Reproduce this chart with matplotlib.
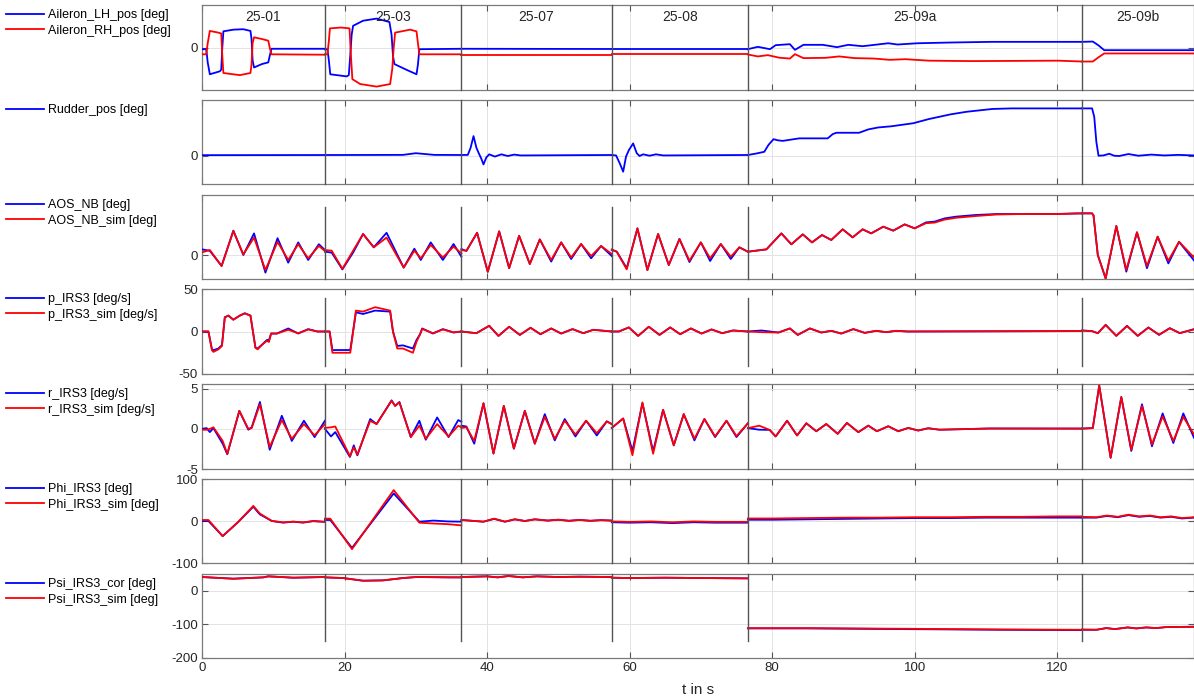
import numpy as np
import matplotlib
matplotlib.use("Agg")
import matplotlib.pyplot as plt
import matplotlib.transforms as mtransforms

plt.rcParams['font.family'] = ['Liberation Sans', 'DejaVu Sans']
plt.rcParams['axes.unicode_minus'] = False

# ---------------- data ----------------
seg_bounds = [17.25, 36.4, 57.5, 76.6, 123.5]
seg_labels = ["25-01", "25-03", "25-07", "25-08", "25-09a", "25-09b"]
seg_starts = [0.0, 17.25, 36.4, 57.5, 76.6, 123.5]
seg_ends = [17.25, 36.4, 57.5, 76.6, 123.5, 139.2]

# Aileron (arbitrary deg scale)
ail_lh_t = [
    [0, 0.6, 0.8, 1.1, 1.7, 2.5, 2.7, 2.85, 3.0, 4.4, 5.8, 6.8, 6.95, 7.1, 7.3, 8.4, 9.3, 9.5, 9.75, 17.25],
    [17.25, 17.6, 17.8, 18.0, 20.3, 20.6, 20.8, 21.0, 21.2, 22.6, 24.5, 26.3, 26.6, 26.8, 27.0, 28.7, 30.1, 30.3, 30.5, 36.4],
    [36.4, 57.5],
    [57.5, 76.6],
    [76.6, 78.0, 79.7, 80.5, 82.5, 83.2, 84.4, 87.1, 89.1, 90.7, 92.7, 96.3, 97.6, 100.4, 105.3, 110.8, 119.1, 123.5],
    [123.5, 125.0, 125.8, 126.6, 139.2]]
ail_lh = [
    [-0.4, -0.4, -3.5, -6.3, -6.0, -5.6, -5.2, 0, 3.8, 4.2, 4.3, 3.9, 2, -3, -4.7, -3.9, -3.5, -2, -0.3, -0.3],
    [-0.4, -0.4, -3, -6.3, -6.8, -6.5, -2, 3, 5.1, 6.3, 6.8, 6.0, 3, -2, -3.9, -5.25, -6.3, -4, -0.4, -0.3],
    [-0.3, -0.35],
    [-0.4, -0.4],
    [-0.4, 0.16, -0.4, 0.55, 0.78, -0.55, 0.63, 0.63, 0.08, 0.63, 0.3, 1.0, 0.7, 1.0, 1.18, 1.33, 1.33, 1.33],
    [1.33, 1.4, 0.5, -0.63, -0.63]]
ail_rh_t = [
    [0, 0.6, 0.8, 1.1, 2.3, 2.7, 2.85, 3.0, 5.3, 6.8, 6.95, 7.1, 7.3, 8.4, 9.3, 9.5, 9.75, 17.25],
    [17.25, 17.6, 17.8, 17.95, 19.5, 20.7, 20.9, 21.1, 22.2, 24.5, 26.4, 26.7, 26.9, 27.1, 29.2, 30.1, 30.3, 30.5, 36.4],
    [36.4, 57.5],
    [57.5, 76.6],
    [76.6, 78.0, 79.4, 81.0, 82.5, 83.2, 84.4, 87.5, 89.4, 91.6, 94.3, 96.5, 98.7, 102.0, 108.0, 120.2, 123.5],
    [123.5, 125.0, 125.8, 126.6, 139.2]]
ail_rh = [
    [-1.6, -1.6, 1, 3.9, 3.5, 3.3, -2, -6.0, -6.5, -6.0, -4, 1, 2.4, 2.0, 1.6, 0, -1.6, -1.7],
    [-1.6, -1.6, 1.5, 4.5, 4.7, 4.5, -2, -7.45, -8.6, -9.2, -8.6, -5, 0, 3.5, 4.2, 3.8, 1, -1.6, -1.6],
    [-1.65, -1.65],
    [-1.6, -1.6],
    [-1.65, -2.1, -1.8, -2.4, -2.6, -1.57, -2.5, -2.43, -2.1, -2.5, -2.6, -2.9, -2.75, -3.1, -3.2, -3.1, -3.3],
    [-3.3, -3.3, -2.3, -1.4, -1.4]]

# Rudder
rud_t = [
    [0, 17.25],
    [17.25, 28.2, 30.0, 32.6, 36.4],
    [36.4, 37.3, 37.7, 38.1, 38.5, 38.8, 39.2, 39.5, 39.9, 40.3, 41.1, 42.0, 42.9, 43.8, 44.7, 57.5],
    [57.5, 58.1, 58.6, 59.1, 59.5, 59.9, 60.5, 61.0, 61.4, 61.9, 62.8, 63.7, 64.7, 76.6],
    [76.6, 77.8, 78.9, 79.5, 80.2, 80.8, 81.5, 83.8, 87.8, 88.5, 89.0, 92.2, 93.5, 94.9, 96.7, 99.8, 102.0, 105.1, 107.3, 110.9, 113.6, 123.5],
    [123.5, 124.9, 125.2, 125.5, 125.8, 126.5, 127.3, 128.0, 128.7, 130.0, 131.4, 133.2, 135.0, 137.0, 139.2]]
rud = [
    [0.3, 0.35],
    [0.35, 0.4, 1.0, 0.4, 0.36],
    [0.36, 0.4, 3.0, 7.1, 3.0, 1.2, -1.0, -3.0, -0.5, 0.6, -0.2, 0.6, 0.0, 0.5, 0.2, 0.36],
    [0.36, 0.2, -2.5, -5.6, -0.2, 2.1, 4.5, 1.0, 0.0, 0.6, 0.1, 0.6, 0.2, 0.36],
    [0.36, 0.9, 1.5, 4.0, 6.0, 5.6, 5.4, 6.3, 6.3, 7.8, 8.3, 8.3, 9.5, 10.2, 10.6, 11.7, 13.2, 14.9, 15.8, 16.8, 17.0, 17.0],
    [17.0, 17.0, 14, 5, 0.1, 0.2, 0.8, 0.1, 0.0, 0.7, 0.1, 0.5, 0.2, 0.4, 0.2]]

# AOS
aos_t = [
    [0, 1.1, 2.75, 4.4, 5.8, 7.3, 8.9, 10.6, 12.1, 13.5, 14.9, 16.4, 17.25],
    [17.25, 18.2, 19.7, 21.2, 22.6, 24.1, 25.9, 28.3, 29.8, 30.7, 32.1, 33.8, 35.3, 36.4],
    [36.4, 37.1, 38.6, 40.1, 41.7, 43.1, 44.5, 46.0, 47.4, 49.0, 50.4, 51.8, 53.2, 54.6, 56.0, 57.5],
    [57.5, 58.2, 59.6, 61.1, 62.5, 64.0, 65.5, 67.0, 68.4, 70.0, 71.3, 72.8, 74.2, 75.4, 76.6],
    [76.6, 79.2, 81.3, 82.7, 84.3, 85.6, 87.0, 88.3, 89.9, 91.3, 92.7, 93.9, 95.6, 97.0, 98.6, 100.0, 101.6, 102.8, 104.2, 105.8, 108.6, 111.5, 115.2, 119.9, 122.7, 123.5],
    [123.5, 124.9, 125.1, 125.7, 126.8, 128.3, 129.7, 131.2, 132.6, 134.1, 135.6, 137.1, 139.2]]
aos_nb = [
    [0.94, 0.7, -1.83, 4.06, 0, 3.6, -2.94, 2.8, -1.28, 2.1, -0.83, 1.8, 0.83],
    [0.55, 0.4, -2.4, 0.4, 3.5, 1.28, 3.7, -2.1, 1.05, -0.83, 2.1, -0.83, 1.83, -0.28],
    [1.0, 0.67, 3.7, -2.8, 3.94, -2.2, 3.2, -1.5, 2.6, -1.1, 2.1, -0.67, 1.83, -0.55, 1.5, -0.17],
    [0.83, 0.55, -2.2, 4.44, -2.5, 3.5, -1.67, 2.67, -1.17, 2.1, -1.0, 1.83, -0.67, 1.28, 0.55],
    [0.55, 0.94, 3.6, 1.78, 3.44, 2.1, 3.33, 2.5, 4.28, 2.94, 4.28, 3.6, 4.72, 4.06, 5.1, 4.44, 5.44, 5.56, 6.1, 6.39, 6.67, 6.83, 6.83, 6.83, 6.94, 6.94],
    [6.94, 6.94, 6.6, 0, -3.9, 4.83, -2.78, 3.78, -2.2, 3.06, -1.4, 2.2, -0.9]]
aos_sim = [
    [0.44, 0.83, -1.83, 4.0, 0.1, 2.9, -2.5, 2.2, -0.83, 1.8, -0.55, 1.5, 0.67],
    [0.83, 0.72, -2.3, 0.7, 3.5, 1.28, 2.9, -2.1, 0.72, -0.55, 1.67, -0.4, 1.39, 0.28],
    [0.83, 0.7, 3.7, -2.8, 3.94, -2.2, 3.2, -1.5, 2.6, -0.83, 2.1, -0.4, 1.83, -0.17, 1.5, 0.17],
    [0.94, 0.55, -2.4, 4.44, -2.5, 3.5, -1.67, 2.67, -0.95, 2.1, -0.55, 1.83, -0.28, 1.28, 0.55],
    [0.55, 0.94, 3.6, 1.78, 3.44, 2.1, 3.33, 2.5, 4.28, 2.94, 4.28, 3.6, 4.72, 4.06, 5.1, 4.44, 5.3, 5.4, 5.9, 6.2, 6.5, 6.75, 6.83, 6.83, 6.9, 6.94],
    [6.94, 6.94, 6.6, 0, -3.9, 4.83, -2.5, 3.78, -1.83, 3.06, -0.95, 2.2, -0.4]]

# p_IRS3
p_t = [
    [0, 0.9, 1.4, 1.6, 2.3, 2.8, 3.2, 3.7, 4.4, 5.3, 6.0, 6.8, 7.5, 7.8, 8.5, 9.1, 9.4, 9.7, 10.5, 12.1, 13.5, 14.9, 16.2, 17.25],
    [17.25, 17.9, 18.3, 18.7, 20.8, 21.2, 21.6, 22.6, 24.3, 26.4, 26.8, 27.4, 28.2, 29.6, 30.1, 30.6, 30.9, 32.4, 33.8, 35.3, 36.4],
    [36.4, 38.5, 40.3, 41.6, 43.1, 44.6, 46.1, 47.5, 49.0, 50.4, 52.0, 53.5, 54.9, 57.5],
    [57.5, 58.5, 59.9, 61.2, 62.7, 64.2, 65.7, 67.1, 68.6, 70.1, 71.5, 73.0, 74.5, 76.6],
    [76.6, 78.5, 80.9, 82.5, 83.6, 85.3, 86.9, 88.3, 89.7, 91.4, 93.0, 94.6, 96.0, 97.4, 99.0, 123.5],
    [123.5, 124.9, 125.7, 126.8, 128.3, 129.8, 131.3, 132.8, 134.3, 135.8, 137.2, 139.2]]
p_irs = [
    [0, 0, -21, -22, -20, -16, 16.7, 18.7, 13.9, 18.7, 21.4, 18.7, -19, -20, -15, -10, -10, -2.4, -2.4, 3.6, -2.4, 2.8, 0, 0],
    [0, 0, -22, -21.8, -21.8, 0, 22.6, 20.6, 24.6, 23.4, 0, -17, -16.3, -20, -10, -3.2, 3.6, -2.4, 2.8, -1.2, 0],
    [0, -2, 6.7, -5.2, 5.6, -4, 4.4, -3.2, 3.6, -2.4, 2.8, -2, 2, 0],
    [0, 0, 4.8, -5.2, 5.6, -4, 4.8, -3.2, 3.6, -2.4, 2.4, -2, 1.2, 0],
    [0, 1.2, -1.2, 3.6, -4, 3.6, -1.2, 0.8, -2.4, 2.8, -1.6, 0.8, -0.8, 0.8, 0, 0.5],
    [1.2, 0.4, -2, 7.9, -5.2, 6.7, -5.2, 4.8, -4, 4, -2, 2.8]]
p_sim = [
    [0, 0, -22, -24, -21, -17, 16.7, 18.7, 13.9, 18.7, 21.4, 18.7, -19, -21, -15, -11, -12.3, -2.4, -2.4, 2.0, -2.0, 2.4, 0, 0],
    [0, 0, -25, -25, -25, 0, 24.6, 23.4, 28.6, 24.6, 0, -20, -20, -25, -12, -3.2, 3.0, -2.0, 2.4, -1.0, 0],
    [0, -2, 6.7, -5.2, 5.6, -4, 4.4, -3.2, 3.6, -2.4, 2.8, -2, 2, 0],
    [0, 0, 4.8, -5.2, 5.6, -4, 4.8, -3.2, 3.6, -2.4, 2.4, -2, 1.2, 0],
    [0, -0.8, -1.2, 3.6, -4, 3.6, -1.2, 0.8, -2.4, 2.8, -1.6, 0.8, -0.8, 0.8, 0, 0.5],
    [1.2, 0.4, -2, 7.5, -5.0, 6.4, -5.0, 4.5, -3.7, 3.7, -1.8, 2.4]]

# r_IRS3
r_t = [
    [0, 0.65, 1.1, 1.6, 2.9, 3.55, 5.24, 6.5, 6.97, 8.13, 9.5, 11.2, 12.6, 14.3, 15.8, 17.25],
    [17.25, 18.1, 18.7, 20.76, 21.3, 21.8, 23.6, 24.5, 26.6, 27.1, 27.7, 29.3, 30.5, 31.4, 33.0, 34.6, 35.95, 36.4],
    [36.4, 37.1, 38.2, 39.5, 40.9, 42.35, 43.76, 45.3, 46.7, 48.1, 49.5, 50.9, 52.4, 53.9, 55.4, 56.8, 57.5],
    [57.5, 59.1, 60.4, 61.8, 63.3, 64.7, 66.2, 67.6, 69.1, 70.5, 72.0, 73.6, 75.0, 76.6],
    [76.6, 78.2, 79.65, 80.5, 82.1, 83.5, 84.8, 86.2, 87.6, 89.2, 90.5, 92.1, 93.5, 94.7, 96.3, 97.7, 99.1, 100.5, 101.9, 103.5, 110.5, 123.5],
    [123.5, 125.0, 125.9, 127.5, 129.0, 130.4, 131.9, 133.3, 134.8, 136.3, 137.7, 139.2]]
r_irs = [
    [0, 0.1, -0.4, 0.1, -1.84, -3.16, 2.25, -0.1, 0.2, 3.36, -2.6, 1.64, -1.5, 1.02, -1.02, 1.02],
    [0, -0.94, -0.4, -3.5, -2.05, -3.3, 1.23, 0.6, 3.56, 2.87, 3.36, -1.02, 1.02, -1.35, 1.43, -1.02, 1.1, 0.9],
    [0.4, 0.3, -1.84, 3.2, -3.07, 2.87, -2.46, 2.25, -1.84, 1.84, -1.43, 1.23, -0.94, 1.02, -0.82, 0.94, 0.6],
    [0.12, 1.3, -2.75, 3.2, -2.8, 2.38, -2.05, 1.84, -1.43, 1.23, -1.02, 1.02, -1.02, 0.7],
    [0.1, -0.1, -0.12, -0.94, 1.02, -0.82, 0.7, -0.29, 0.61, -0.61, 0.74, -0.41, 0.41, -0.29, 0.33, -0.29, 0.12, -0.2, 0.08, -0.1, 0.05, 0.04],
    [0.04, 0.1, 5.4, -3.6, 3.98, -2.75, 3.07, -2.17, 1.93, -1.76, 1.93, -1.1]]
r_sim = [
    [-0.1, -0.1, 0.0, 0.2, -1.5, -3.1, 2.25, 0.0, 0.1, 3.07, -2.25, 1.1, -1.23, 0.6, -0.8, 0.6],
    [0.12, 0.2, 0.3, -3.4, -2.3, -3.2, 1.0, 0.6, 3.5, 2.87, 3.3, -1.02, 0.4, -1.23, 0.6, -0.94, 0.4, 0.2],
    [0.12, 0.2, -1.5, 3.2, -3.07, 2.87, -2.46, 2.25, -1.84, 1.5, -1.23, 1.02, -0.7, 1.02, -0.53, 0.94, 0.6],
    [0.12, 1.3, -3.28, 3.3, -3.1, 2.38, -2.05, 1.84, -1.23, 1.23, -0.94, 1.02, -0.9, 0.7],
    [0.1, 0.4, -0.12, -0.94, 1.02, -0.82, 0.7, -0.29, 0.61, -0.61, 0.74, -0.41, 0.41, -0.29, 0.33, -0.29, 0.12, -0.2, 0.08, -0.1, 0.05, 0.04],
    [0.04, 0.1, 5.4, -3.6, 3.98, -2.6, 2.87, -1.93, 1.56, -1.5, 1.5, -0.7]]

# Phi_IRS3
phi_t = [
    [0, 0.9, 2.9, 5.1, 7.2, 8.1, 9.8, 11.4, 12.8, 14.2, 15.6, 17.25],
    [17.25, 18.0, 21.05, 26.9, 30.5, 32.5, 34.5, 36.4],
    [36.4, 39.5, 41.0, 42.5, 43.9, 45.3, 46.7, 48.5, 50.0, 51.5, 53.0, 54.5, 56.0, 57.5],
    [57.5, 60.0, 63.0, 66.0, 69.0, 72.0, 76.6],
    [76.6, 80.0, 85.0, 90.0, 95.0, 100.0, 105.0, 110.0, 115.0, 120.0, 123.5],
    [123.5, 125.5, 127.0, 128.5, 130.0, 131.5, 133.0, 134.5, 136.0, 137.5, 139.2]]
phi_irs = [
    [0, 0, -36, -2, 34, 16, 0, -4, -1.6, -4, 0, -2],
    [2.4, 2.4, -64, 65.6, -1.6, 1, -1, -1.6],
    [2.4, -1.6, 5.0, -1.6, 4, 0, 4, 1, 3, 0.5, 2.5, 0.5, 2, 1],
    [-3, -4, -3, -5, -3, -4, -4],
    [3, 3, 4, 5, 6, 7, 7, 8, 8, 8, 8],
    [8, 8, 12, 9, 14, 10, 12, 8, 10, 6, 8]]
phi_sim = [
    [2.4, 2.4, -36, -2, 36, 18, 0, -3, -1.6, -3, -0.5, -2],
    [5.6, 5.6, -67, 73.6, -4, -6, -7.5, -10.4],
    [2.4, -1.6, 5.6, -1.6, 4, 0, 4, 1, 3, 0.5, 2.5, 0.5, 2, 1],
    [-1, -2, -1, -3, -1, -2, -2],
    [6, 6, 7, 8, 8, 9, 9, 10, 10, 11, 11],
    [10, 9, 13, 10, 15, 11, 13, 9, 11, 7, 9]]

# Psi
psi_t = [
    [0, 4.4, 8.6, 9.3, 12.8, 17.25],
    [17.25, 19.8, 22.6, 25.4, 28.2, 30.1, 34.8, 36.4],
    [36.4, 40.0, 41.5, 43.0, 45.0, 47.0, 50.0, 53.0, 57.5],
    [57.5, 60.0, 65.0, 70.0, 76.6],
    [76.6, 85.0, 98.5, 112.0, 123.5],
    [123.5, 125.5, 126.9, 128.1, 129.9, 131.1, 132.5, 133.9, 135.3, 139.2]]
psi_cor = [
    [41, 36, 40, 43, 39, 41],
    [40, 38, 30, 31, 38, 41, 40, 40],
    [41, 43, 40, 44, 40, 43, 41, 42, 41],
    [39, 38, 39, 38, 37],
    [-112, -112, -114, -116, -117],
    [-116, -116, -111, -114, -109, -112, -109, -111, -108, -107]]
psi_sim = [
    [41, 36, 40, 43, 39, 41],
    [40, 38, 30, 31, 38, 41, 40, 40],
    [41, 43, 40, 44, 40, 43, 41, 42, 41],
    [39, 38, 39, 38, 37],
    [-111, -111, -113, -115, -116],
    [-115, -116, -111, -114, -109, -112, -109, -111, -108, -107]]

# ---------------- figure ----------------
W, H = 1194, 698
fig = plt.figure(figsize=(W / 100, H / 100), dpi=100)

panel_px = [(5, 90), (100, 184), (195, 279), (289, 374), (384, 469), (479, 563), (574, 658)]
left_px, right_px = 202, 1194

axes = []
for (top, bot) in panel_px:
    ax = fig.add_axes([left_px / W, 1 - bot / H, (right_px - left_px) / W, (bot - top) / H])
    axes.append(ax)

BLUE = (0, 0, 1)
RED = (1, 0, 0)
SEP = '0.33'
TXT = '#262626'
FS_TICK = 9.5
FS_LEG = 9
FS_LAB = 11

panels = [
    dict(series=[(ail_lh_t, ail_lh, BLUE, 'Aileron_LH_pos [deg]'), (ail_rh_t, ail_rh, RED, 'Aileron_RH_pos [deg]')],
         ylim=(-10, 10), yticks=[0], sep=(-10, 10)),
    dict(series=[(rud_t, rud, BLUE, 'Rudder_pos [deg]')],
         ylim=(-10, 20), yticks=[0], sep=(-10, 20)),
    dict(series=[(aos_t, aos_nb, BLUE, 'AOS_NB [deg]'), (aos_t, aos_sim, RED, 'AOS_NB_sim [deg]')],
         ylim=(-4, 10), yticks=[0], sep=(-4, 8)),
    dict(series=[(p_t, p_irs, BLUE, 'p_IRS3 [deg/s]'), (p_t, p_sim, RED, 'p_IRS3_sim [deg/s]')],
         ylim=(-50, 50), yticks=[-50, 0, 50], sep=(-40, 40)),
    dict(series=[(r_t, r_irs, BLUE, 'r_IRS3 [deg/s]'), (r_t, r_sim, RED, 'r_IRS3_sim [deg/s]')],
         ylim=(-5, 5.6), yticks=[-5, 0, 5], sep=(-5, 5.6)),
    dict(series=[(phi_t, phi_irs, BLUE, 'Phi_IRS3 [deg]'), (phi_t, phi_sim, RED, 'Phi_IRS3_sim [deg]')],
         ylim=(-100, 100), yticks=[-100, 0, 100], sep=(-100, 100)),
    dict(series=[(psi_t, psi_cor, BLUE, 'Psi_IRS3_cor [deg]'), (psi_t, psi_sim, RED, 'Psi_IRS3_sim [deg]')],
         ylim=(-200, 50), yticks=[-200, -100, 0], sep=(-150, 50)),
]

xmax = 139.2
for i, (ax, pn) in enumerate(zip(axes, panels)):
    ax.set_xlim(0, xmax)
    ax.set_ylim(*pn['ylim'])
    ax.set_yticks(pn['yticks'])
    ax.set_xticks([0, 20, 40, 60, 80, 100, 120])
    ax.grid(True, color='#e3e3e3', lw=0.7, zorder=0)
    ax.set_axisbelow(True)
    for s in ax.spines.values():
        s.set_color('#7a7a7a')
        s.set_linewidth(0.9)
    ax.tick_params(direction='in', length=4, width=0.8, color='#555555',
                   top=True, right=True, labelsize=FS_TICK, labelcolor=TXT, pad=3)
    if i < len(axes) - 1:
        ax.tick_params(labelbottom=False)
    handles = []
    for (tt, yy, col, lab) in pn['series']:
        first = True
        for ts, ys in zip(tt, yy):
            ln, = ax.plot(ts, ys, color=col, lw=1.3, zorder=3, label=lab if first else None)
            if first:
                handles.append(ln)
            first = False
    lo, hi = pn['sep']
    for b in seg_bounds:
        ax.plot([b, b], [lo, hi], color=SEP, lw=1.0, zorder=4, clip_on=False)
    top_px = panel_px[i][0]
    ax.legend(handles=handles, loc='upper left',
              bbox_to_anchor=(6 / W, 1 - (top_px + 4) / H), bbox_transform=fig.transFigure,
              frameon=False, fontsize=FS_LEG, handlelength=3.0, handletextpad=0.4,
              labelspacing=0.3, borderaxespad=0, borderpad=0)

# segment labels in top panel
trans = mtransforms.blended_transform_factory(axes[0].transData, axes[0].transAxes)
for lab, s0, s1 in zip(seg_labels, seg_starts, seg_ends):
    axes[0].text((s0 + s1) / 2, 0.86, lab, transform=trans, ha='center', va='center',
                 fontsize=10, color=TXT)

axes[-1].set_xlabel('t in s', fontsize=FS_LAB, color=TXT, labelpad=6)

fig.savefig('out.png', dpi=100)
